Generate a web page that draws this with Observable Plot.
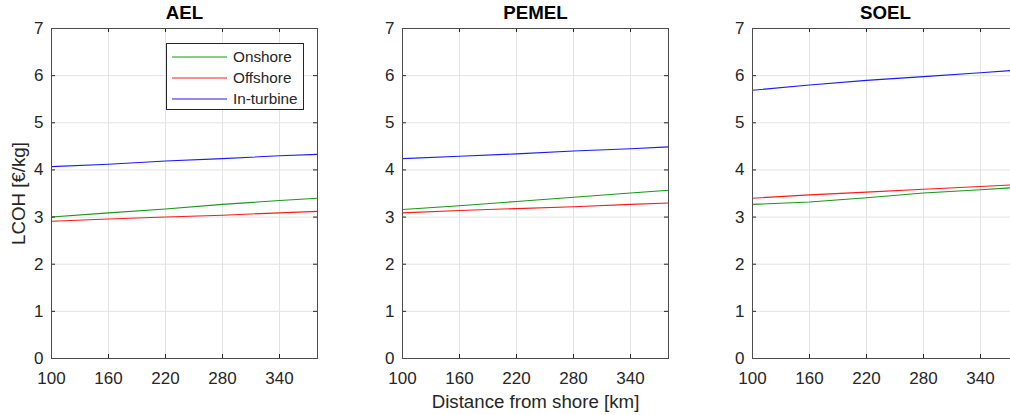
<!DOCTYPE html>
<html>
<head>
<meta charset="utf-8">
<script src="https://cdn.jsdelivr.net/npm/d3@7"></script>
<script src="https://cdn.jsdelivr.net/npm/@observablehq/plot@0.6"></script>
<style>
  html, body { margin: 0; padding: 0; background: #fff; overflow: hidden; }
  #wrap { position: relative; width: 1010px; height: 415px; overflow: hidden; font-family: "Liberation Sans", Arial, sans-serif; }
  .panel { position: absolute; top: 0; }
  #legend { position: absolute; left: 166px; top: 43px; width: 138px; height: 67px; border: 1px solid #262626; background: #fff; box-sizing: border-box; font-size: 15.3px; color: #262626; }
  #legend .row { position: absolute; left: 0; height: 20px; display: flex; align-items: center; }
  #legend svg { margin-left: 5px; margin-right: 6px; }
</style>
</head>
<body>
<div id="wrap"></div>
<script>
// ---- data ----
const panels = ["AEL", "PEMEL", "SOEL"];
const series = ["Onshore", "Offshore", "In-turbine"];
const seriesColors = ["#1a961a", "#ff1a1a", "#1a1aff"];
const distances = [100, 160, 220, 280, 340, 380];
const xTicks = [100, 160, 220, 280, 340];
const yTicks = [0, 1, 2, 3, 4, 5, 6, 7];

const aelOnshore    = [3.00, 3.09, 3.17, 3.27, 3.35, 3.40];
const aelOffshore   = [2.91, 2.96, 3.00, 3.04, 3.09, 3.12];
const aelInTurbine  = [4.07, 4.12, 4.19, 4.24, 4.30, 4.33];

const pemelOnshore   = [3.16, 3.24, 3.33, 3.42, 3.51, 3.57];
const pemelOffshore  = [3.09, 3.14, 3.18, 3.22, 3.27, 3.30];
const pemelInTurbine = [4.24, 4.29, 4.34, 4.40, 4.45, 4.49];

const soelOnshore   = [3.27, 3.32, 3.41, 3.51, 3.58, 3.63];
const soelOffshore  = [3.40, 3.47, 3.53, 3.59, 3.65, 3.69];
const soelInTurbine = [5.69, 5.80, 5.90, 5.98, 6.06, 6.12];

const panelSeries = {
  AEL:   [aelOnshore, aelOffshore, aelInTurbine],
  PEMEL: [pemelOnshore, pemelOffshore, pemelInTurbine],
  SOEL:  [soelOnshore, soelOffshore, soelInTurbine]
};

// ---- layout ----
const frameLefts = [51, 401.5, 752];
const frameW = 266;
const mL = 51, mR = 10, mT = 28, mB = 57;
const H = 415;
const frameH = H - mT - mB;
const axisColor = "#262626";
const font = "Liberation Sans, Arial, sans-serif";

const wrap = document.getElementById("wrap");

panels.forEach((name, pi) => {
  const rows = [];
  panelSeries[name].forEach((vals, si) => {
    vals.forEach((v, i) => rows.push({panel: name, series: series[si], distance: distances[i], lcoh: v}));
  });

  const marks = [
    Plot.gridX(xTicks, {stroke: "#e3e3e3", strokeOpacity: 1}),
    Plot.gridY(yTicks, {stroke: "#e3e3e3", strokeOpacity: 1}),
    Plot.lineY(rows, {x: "distance", y: "lcoh", z: "series", stroke: "series", strokeWidth: 1.1}),
    // inward tick marks on all four sides
    Plot.tickX(xTicks, {x: d => d, stroke: axisColor, insetTop: frameH - 4}),
    Plot.tickX(xTicks, {x: d => d, stroke: axisColor, insetBottom: frameH - 4}),
    Plot.tickY(yTicks, {y: d => d, stroke: axisColor, insetRight: frameW - 4}),
    Plot.tickY(yTicks, {y: d => d, stroke: axisColor, insetLeft: frameW - 4}),
    Plot.axisX(xTicks, {tickSize: 0, tickPadding: 13, fontSize: 17, fill: axisColor, label: null}),
    Plot.axisY(yTicks, {tickSize: 0, tickPadding: 8, fontSize: 17, fill: axisColor, label: null}),
    Plot.frame({stroke: "#4d4d4d", strokeWidth: 1}),
    Plot.text([name], {frameAnchor: "top", dy: -15, lineAnchor: "middle", text: d => d, fontSize: 18.7, fontWeight: "bold", fill: "#000"})
  ];
  if (pi === 0) {
    marks.push(Plot.text(["LCOH [€/kg]"], {frameAnchor: "left", dx: -32, rotate: -90, textAnchor: "middle", lineAnchor: "middle", text: d => d, fontSize: 18.7, fill: axisColor}));
  }
  if (pi === 1) {
    marks.push(Plot.text(["Distance from shore [km]"], {frameAnchor: "bottom", dy: 44, textAnchor: "middle", lineAnchor: "middle", text: d => d, fontSize: 18.7, fill: axisColor}));
  }

  const chart = Plot.plot({
    width: mL + frameW + mR,
    height: H,
    marginLeft: mL, marginRight: mR, marginTop: mT, marginBottom: mB,
    style: {fontFamily: font, background: "transparent", overflow: "visible"},
    x: {domain: [100, 380], ticks: xTicks},
    y: {domain: [0, 7], ticks: yTicks},
    color: {domain: series, range: seriesColors},
    marks
  });
  chart.classList.add("panel");
  chart.style.left = (frameLefts[pi] - mL) + "px";
  wrap.appendChild(chart);
});

// legend (inside AEL panel)
const legend = document.createElement("div");
legend.id = "legend";
series.forEach((s, i) => {
  const row = document.createElement("div");
  row.className = "row";
  row.style.top = (3 + i * 21) + "px";
  row.innerHTML = `<svg width="55" height="4"><line x1="0" x2="55" y1="2" y2="2" stroke="${seriesColors[i]}" stroke-width="1.2"/></svg><span>${s}</span>`;
  legend.appendChild(row);
});
wrap.appendChild(legend);
</script>
</body>
</html>
